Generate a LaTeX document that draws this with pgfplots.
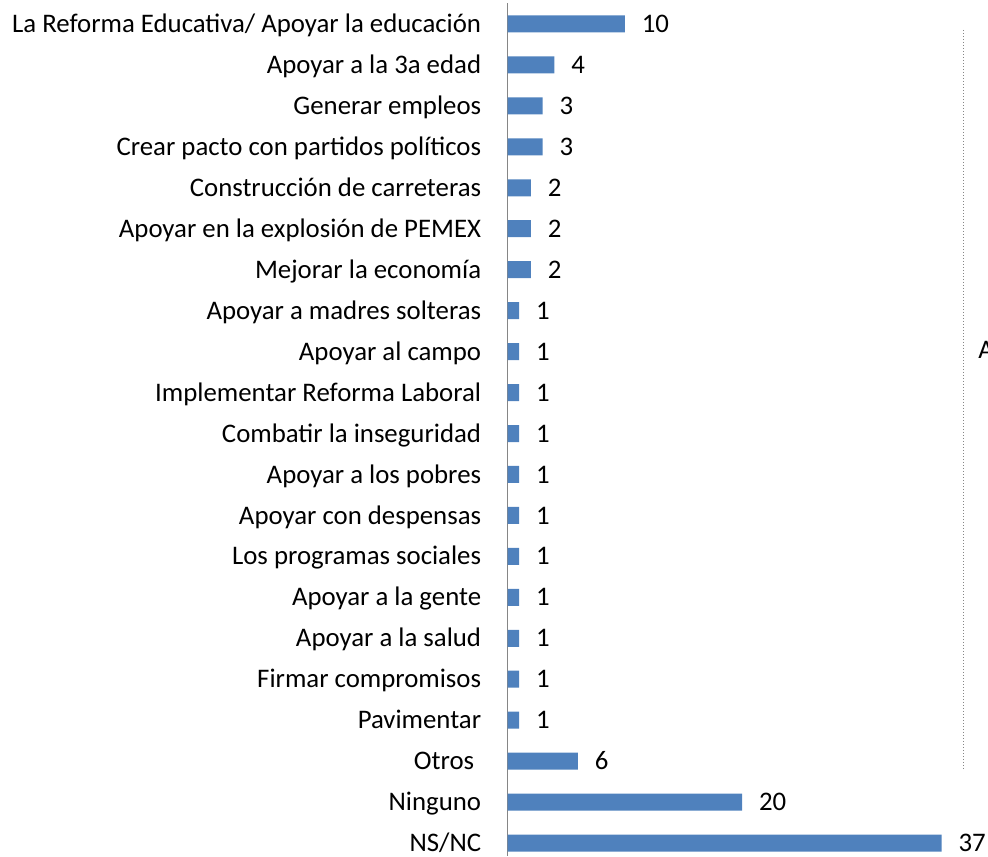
\documentclass[border=0pt]{standalone}
\usepackage{fontspec}
\setmainfont{Carlito}
\usepackage{pgfplots}
\pgfplotsset{compat=1.18}
\definecolor{barblue}{HTML}{4F81BD}
\definecolor{axgray}{HTML}{868686}
\newcommand{\lblfont}{\fontsize{13.4}{15}\selectfont}
\begin{document}
\lblfont
\begin{tikzpicture}
\begin{axis}[
    at={(253.75pt,0pt)}, anchor=south west,
    scale only axis,
    width=234.6pt, height=426.25pt,
    xbar, bar width=8.5pt, bar shift=0pt,
    xmin=0, xmax=40,
    ymin=-0.5, ymax=20.317, y dir=reverse,
    hide x axis,
    axis y line*=left,
    y axis line style={axgray, line width=0.8pt},
    major tick length=0pt,
    ytick={0,...,20},
    yticklabels={La Reforma Educativa/ Apoyar la educación, Apoyar a la 3a edad,
      Generar empleos, Crear pacto con partidos políticos, Construcción de carreteras,
      Apoyar en la explosión de PEMEX, Mejorar la economía, Apoyar a madres solteras,
      Apoyar al campo, Implementar Reforma Laboral, Combatir la inseguridad,
      Apoyar a los pobres, Apoyar con despensas, Los programas sociales,
      Apoyar a la gente, Apoyar a la salud, Firmar compromisos, Pavimentar,
      Otros\kern3.5pt, Ninguno, NS/NC},
    yticklabel style={font=\lblfont, anchor=base east, inner sep=0pt, xshift=-13pt, yshift=-4.3pt},
    /pgf/number format/assume math mode=true,
    nodes near coords,
    every node near coord/.append style={font=\lblfont, text=black, anchor=base west, inner sep=0pt, xshift=8.3pt, yshift=-4.3pt},
]
\addplot[fill=barblue, draw=none] coordinates {
    (10,0) (4,1) (3,2) (3,3) (2,4) (2,5) (2,6)
    (1,7) (1,8) (1,9) (1,10) (1,11) (1,12) (1,13)
    (1,14) (1,15) (1,16) (1,17)
    (6,18) (20,19) (37,20)
};
\end{axis}
\draw[axgray, line width=0.5pt, dash pattern=on 0.6pt off 0.9pt] (481.5pt,413pt) -- (481.5pt,43pt);
\node[font=\lblfont, anchor=base west, inner sep=0pt] at (489pt,248.8pt) {A};
\pgfresetboundingbox
\path[use as bounding box] (0,0) rectangle (494pt,428pt);
\end{tikzpicture}
\end{document}
